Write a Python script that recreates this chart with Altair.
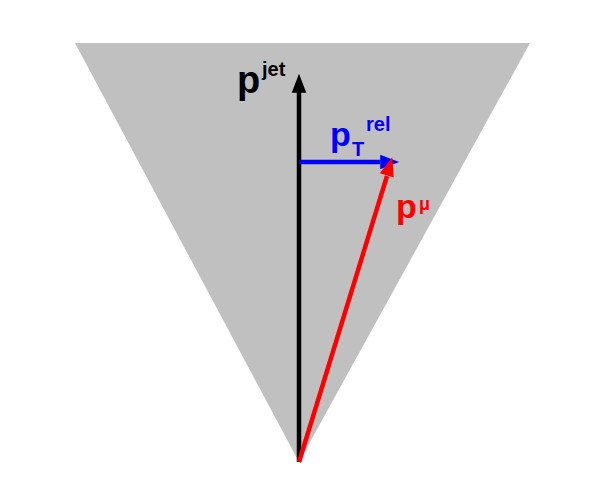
import altair as alt
import pandas as pd

# triangle (cone) outline
cone_x = [75, 299, 530]
cone_top = [43, 43, 43]
cone_bot = [43, 462, 43]

# arrows: start, end, colour, head angle
ar_x1 = [299, 299, 299]
ar_y1 = [462, 162, 462]
ar_x2 = [299, 380, 387]
ar_y2 = [92, 162, 176]
hx = [299, 388, 389]
hy = [85, 162, 168]
ang = [0, 90, 17]
cols = ["black", "blue", "red"]

# labels
tx = [237, 330, 396, 262, 352, 366, 419]
ty = [93, 146, 218, 76, 156, 131, 210]
tt = ["p", "p", "p", "jet", "T", "rel", "\u03bc"]
ts = [38, 34, 34, 20, 20, 20, 18]
tc = ["black", "blue", "red", "black", "blue", "blue", "red"]

X = alt.Scale(domain=[8, 591])
Y = alt.Scale(domain=[473, 8])
nx = dict(scale=X, axis=None)
ny = dict(scale=Y, axis=None)

cone = alt.Chart(pd.DataFrame({"x": cone_x, "t": cone_top, "b": cone_bot})).mark_area(
    color="#c0c0c0", opacity=1).encode(
    x=alt.X("x:Q", **nx), y=alt.Y("t:Q", **ny), y2="b:Q")

ad = pd.DataFrame({"x1": ar_x1, "y1": ar_y1, "x2": ar_x2, "y2": ar_y2,
                   "hx": hx, "hy": hy, "a": ang, "c": cols})
shafts = alt.Chart(ad).mark_rule(strokeWidth=4.5).encode(
    x=alt.X("x1:Q", **nx), y=alt.Y("y1:Q", **ny), x2="x2:Q", y2="y2:Q",
    color=alt.Color("c:N", scale=None))
heads = alt.Chart(ad).mark_point(
    shape="M0,-1L0.65,0.7L-0.65,0.7Z", filled=True, opacity=1, size=500).encode(
    x=alt.X("hx:Q", **nx), y=alt.Y("hy:Q", **ny), angle=alt.Angle("a:Q", scale=None),
    color=alt.Color("c:N", scale=None))

td = pd.DataFrame({"x": tx, "y": ty, "t": tt, "s": ts, "c": tc})
texts = alt.Chart(td).mark_text(font="Liberation Sans", fontWeight="bold",
                                align="left", baseline="alphabetic").encode(
    x=alt.X("x:Q", **nx), y=alt.Y("y:Q", **ny), text="t:N",
    size=alt.Size("s:Q", scale=None), color=alt.Color("c:N", scale=None))

chart = (cone + shafts + heads + texts).properties(
    width=583, height=465, padding=0, autosize="none").configure_view(stroke=None)
chart.save("out.html", embed_options={"renderer": "svg", "actions": False})
